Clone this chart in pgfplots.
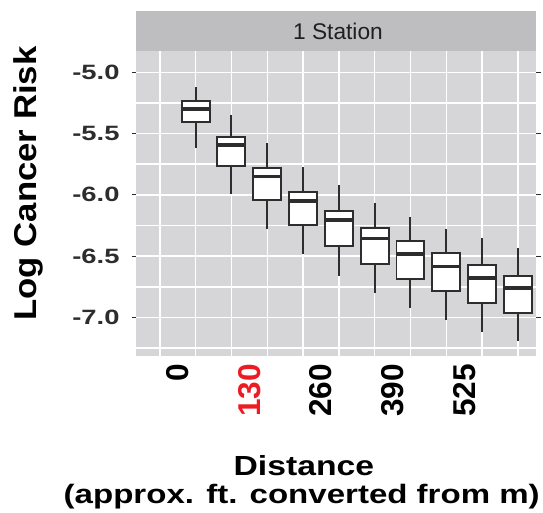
\documentclass[border=0pt]{standalone}
\usepackage{pgfplots}
\pgfplotsset{compat=1.18}
\usepgfplotslibrary{statistics}
\usepackage{graphicx}
\usepackage{fontspec}
\setmainfont{Liberation Sans}

\definecolor{panelgray}{RGB}{214,214,217}
\definecolor{stripgray}{RGB}{190,190,193}
\definecolor{boxgray}{RGB}{45,45,45}
\definecolor{ticklab}{RGB}{45,45,45}
\definecolor{redlab}{RGB}{237,28,36}

% the reference text looks stretched sideways
\newcommand{\hs}[1]{\scalebox{1.32}[1]{#1}}

\begin{document}
\begin{tikzpicture}
\begin{axis}[
    scale only axis,
    width=404.7bp, height=309bp,
    xmin=-0.653, xmax=10.5,
    ymin=-7.316, ymax=-4.829,
    axis background/.style={fill=panelgray},
    axis line style={draw=none},
    xtick={0.5,2.5,4.5,6.5,8.5},
    xticklabels={0,\textcolor{redlab}{130},260,390,525},
    minor xtick={0,1,2,3,4,5,6,7,8,9,10},
    ytick={-7,-6.5,-6,-5.5,-5},
    yticklabels={\hs{-7.0},\hs{-6.5},\hs{-6.0},\hs{-5.5},\hs{-5.0}},
    minor ytick={-7.25,-6.75,-6.25,-5.75,-5.25},
    xminorgrids=true, ymajorgrids=true, yminorgrids=true,
    major grid style={white, line width=1.5bp},
    minor grid style={white, line width=1.5bp},
    tick align=outside,
    major tick length=5bp, minor tick length=0pt,
    xtick style={draw=none},
    ytick style={draw=boxgray, line width=1.2bp},
    xticklabel style={rotate=90, anchor=east, inner sep=0pt, inner xsep=3bp,
        font=\fontsize{32bp}{32bp}\selectfont\bfseries, text=black},
    yticklabel style={anchor=east, inner sep=0pt, inner xsep=12bp,
        font=\fontsize{21bp}{21bp}\selectfont\bfseries, text=ticklab},
    boxplot/draw direction=y,
    boxplot/box extend=0.78,
    boxplot/whisker extend=0,
    boxplot/every median/.style={line width=3.8bp},
]
\addplot[draw=boxgray, fill=white, line width=2bp, boxplot prepared={draw position=1,
    lower whisker=-5.618, lower quartile=-5.408, median=-5.298, upper quartile=-5.231, upper whisker=-5.121}] coordinates {};
\addplot[draw=boxgray, fill=white, line width=2bp, boxplot prepared={draw position=2,
    lower whisker=-5.993, lower quartile=-5.765, median=-5.594, upper quartile=-5.525, upper whisker=-5.349}] coordinates {};
\addplot[draw=boxgray, fill=white, line width=2bp, boxplot prepared={draw position=3,
    lower whisker=-6.275, lower quartile=-6.039, median=-5.851, upper quartile=-5.779, upper whisker=-5.577}] coordinates {};
\addplot[draw=boxgray, fill=white, line width=2bp, boxplot prepared={draw position=4,
    lower whisker=-6.481, lower quartile=-6.248, median=-6.052, upper quartile=-5.974, upper whisker=-5.773}] coordinates {};
\addplot[draw=boxgray, fill=white, line width=2bp, boxplot prepared={draw position=5,
    lower whisker=-6.664, lower quartile=-6.415, median=-6.208, upper quartile=-6.135, upper whisker=-5.921}] coordinates {};
\addplot[draw=boxgray, fill=white, line width=2bp, boxplot prepared={draw position=6,
    lower whisker=-6.799, lower quartile=-6.562, median=-6.356, upper quartile=-6.267, upper whisker=-6.066}] coordinates {};
\addplot[draw=boxgray, fill=white, line width=2bp, boxplot prepared={draw position=7,
    lower whisker=-6.924, lower quartile=-6.686, median=-6.485, upper quartile=-6.377, upper whisker=-6.181}] coordinates {};
\addplot[draw=boxgray, fill=white, line width=2bp, boxplot prepared={draw position=8,
    lower whisker=-7.021, lower quartile=-6.787, median=-6.584, upper quartile=-6.477, upper whisker=-6.275}] coordinates {};
\addplot[draw=boxgray, fill=white, line width=2bp, boxplot prepared={draw position=9,
    lower whisker=-7.115, lower quartile=-6.884, median=-6.680, upper quartile=-6.576, upper whisker=-6.356}] coordinates {};
\addplot[draw=boxgray, fill=white, line width=2bp, boxplot prepared={draw position=10,
    lower whisker=-7.196, lower quartile=-6.965, median=-6.758, upper quartile=-6.659, upper whisker=-6.436}] coordinates {};
\end{axis}

% facet strip
\fill[stripgray] (current axis.north west) rectangle ([yshift=41bp]current axis.north east);
\node[font=\fontsize{23bp}{23bp}\selectfont, text=black!88] at ([xshift=1.9bp, yshift=20.5bp]current axis.north) {1 Station};

% axis titles
\node[rotate=90, anchor=base, font=\fontsize{32bp}{32bp}\selectfont\bfseries]
    at ([xshift=-101.6bp, yshift=175bp]current axis.south west) {\scalebox{1.1}[1]{Log Cancer Risk}};
\node[anchor=base, font=\fontsize{28bp}{28bp}\selectfont\bfseries]
    at ([xshift=169.7bp, yshift=-120.7bp]current axis.south west) {\scalebox{1.22}[1]{Distance}};
\node[anchor=base, font=\fontsize{27bp}{27bp}\selectfont\bfseries]
    at ([xshift=167.5bp, yshift=-149bp]current axis.south west) {\scalebox{1.24}[1]{(approx. ft. converted from m)}};

% page size of the reference
\path ([xshift=-138.3bp, yshift=-156bp]current axis.south west) rectangle ([yshift=52bp]current axis.north east);
\end{tikzpicture}
\end{document}
